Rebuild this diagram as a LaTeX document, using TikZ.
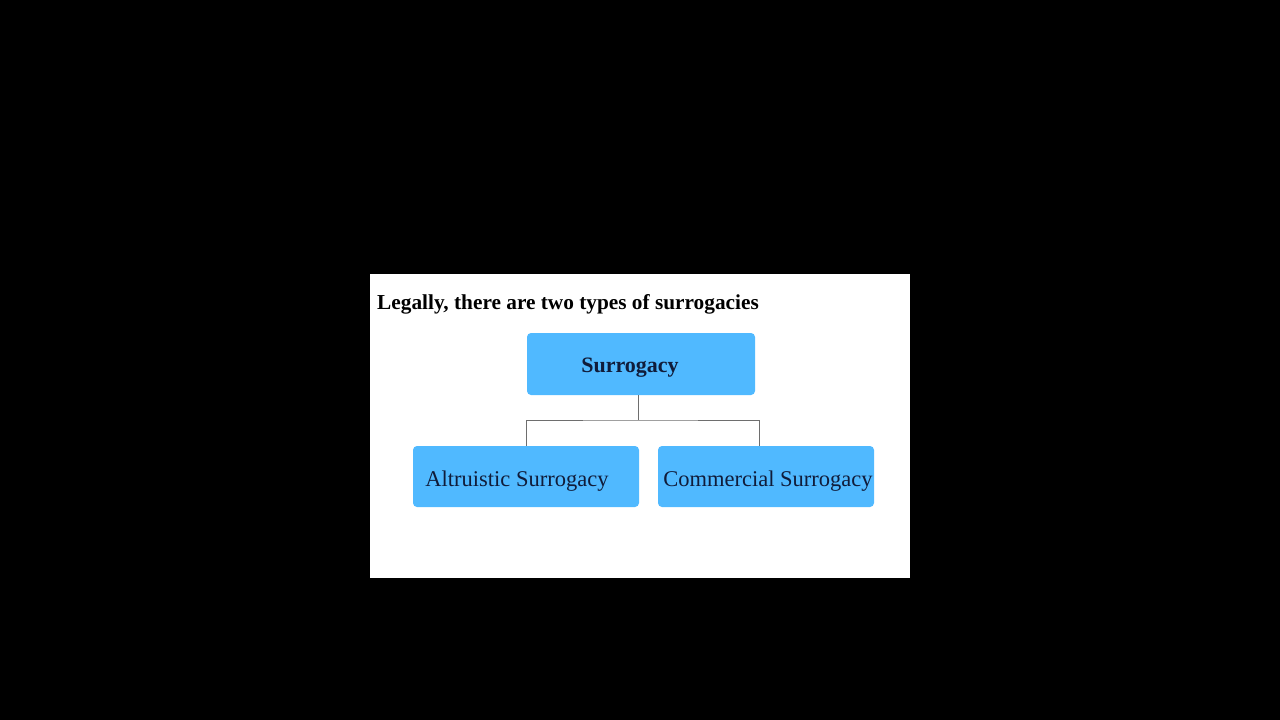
\documentclass[tikz,border=0pt]{standalone}
\usepackage{fontspec}
\setmainfont{Liberation Serif}
\definecolor{boxblue}{RGB}{80,185,255}
\definecolor{boxtext}{RGB}{16,28,58}
\definecolor{linegray}{RGB}{110,110,110}
\tikzset{
  box/.style={fill=boxblue, rounded corners=4pt, inner sep=0pt},
  lbl/.style={text=boxtext, inner sep=0pt, font=\fontsize{22.5pt}{26pt}\selectfont},
  conn/.style={draw=linegray, line width=0.9pt},
}
\begin{document}
\begin{tikzpicture}[x=1pt,y=-1pt]
\fill[black] (0,0) rectangle (1280,720);
\useasboundingbox (0,0) rectangle (1280,720);
\fill[white] (370,274) rectangle (910,578);
\node[anchor=base west, inner sep=0pt, font=\bfseries\fontsize{21.3pt}{25pt}\selectfont] (title) at (377,309) {Legally, there are two types of surrogacies};
\node[box, minimum width=228pt, minimum height=62pt] (s) at (641,364) {};
\node[box, minimum width=226pt, minimum height=61pt] (a) at (526,476.5) {};
\node[box, minimum width=216pt, minimum height=61pt] (c) at (766,476.5) {};
\node[lbl, font=\bfseries\fontsize{22pt}{26pt}\selectfont] (st) at (630,368) {Surrogacy};
\node[lbl] (at) at (517,481) {Altruistic Surrogacy};
\node[lbl] (ct) at (768,481) {Commercial Surrogacy};
\coordinate (j) at (638,420);
\coordinate (cl) at (759,446);
\draw[conn] (s.south -| j) -- (j);
\draw[conn] (a.north) |- (j) -| (cl);
\end{tikzpicture}
\end{document}
